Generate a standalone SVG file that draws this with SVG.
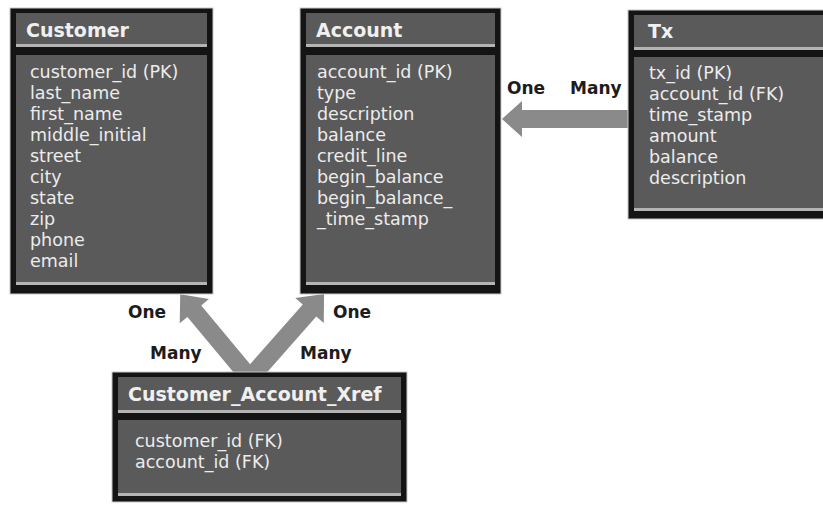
<svg xmlns="http://www.w3.org/2000/svg" width="823" height="505" viewBox="0 0 823 505">
<style>
.outer{fill:#141414;stroke:#c8c8c8;stroke-width:1}
.panel{fill:#5a5a5a}
.hl{fill:#b4b4b4}
.title{font-family:"DejaVu Sans",sans-serif;font-weight:bold;font-size:19px;fill:#f0f0f0}
.attr{font-family:"DejaVu Sans",sans-serif;font-size:17.5px;fill:#ececec}
.lbl{font-family:"DejaVu Sans",sans-serif;font-weight:bold;font-size:17px;fill:#1c1c1c}
.arrow{fill:#8a8a8a}
</style>
<g id="connectors">
<polygon class="arrow" points="628,110 522,110 522,101 502,119 522,137 522,128 628,128"/>
<g transform="translate(250,378) rotate(-129.8)"><polygon class="arrow" points="0,-9 87,-9 87,-19 109,0 87,19 87,9 0,9"/></g>
<g transform="translate(250,378) rotate(-48.6)"><polygon class="arrow" points="0,-9 90,-9 90,-19 112,0 90,19 90,9 0,9"/></g>
<text class="lbl" x="507" y="94">One</text>
<text class="lbl" x="570" y="94">Many</text>
<text class="lbl" x="128" y="318">One</text>
<text class="lbl" x="333" y="318">One</text>
<text class="lbl" x="150" y="359">Many</text>
<text class="lbl" x="300" y="359">Many</text>
</g>
<g id="customer">
<rect class="outer" x="10" y="8" width="203" height="286"/>
<rect class="panel" x="16" y="13" width="191" height="31"/>
<rect class="hl" x="16" y="44" width="191" height="3"/>
<rect class="panel" x="16" y="55" width="191" height="227"/>
<rect class="hl" x="16" y="282" width="191" height="3"/>
<text class="title" x="26" y="37">Customer</text>
<text class="attr" x="30" y="78">customer_id (PK)</text>
<text class="attr" x="30" y="99">last_name</text>
<text class="attr" x="30" y="120">first_name</text>
<text class="attr" x="30" y="141">middle_initial</text>
<text class="attr" x="30" y="162">street</text>
<text class="attr" x="30" y="183">city</text>
<text class="attr" x="30" y="204">state</text>
<text class="attr" x="30" y="225">zip</text>
<text class="attr" x="30" y="246">phone</text>
<text class="attr" x="30" y="267">email</text>
</g>
<g id="account">
<rect class="outer" x="300" y="8" width="201" height="286"/>
<rect class="panel" x="306" y="13" width="189" height="31"/>
<rect class="hl" x="306" y="44" width="189" height="3"/>
<rect class="panel" x="306" y="55" width="189" height="227"/>
<rect class="hl" x="306" y="282" width="189" height="3"/>
<text class="title" x="316" y="37">Account</text>
<text class="attr" x="317" y="78">account_id (PK)</text>
<text class="attr" x="317" y="99">type</text>
<text class="attr" x="317" y="120">description</text>
<text class="attr" x="317" y="141">balance</text>
<text class="attr" x="317" y="162">credit_line</text>
<text class="attr" x="317" y="183">begin_balance</text>
<text class="attr" x="317" y="204">begin_balance_</text>
<text class="attr" x="317" y="225">_time_stamp</text>
</g>
<g id="tx">
<rect class="outer" x="628" y="10" width="205" height="209"/>
<rect class="panel" x="634" y="15" width="195" height="32"/>
<rect class="hl" x="634" y="47" width="195" height="3"/>
<rect class="panel" x="634" y="57" width="195" height="151"/>
<rect class="hl" x="634" y="208" width="195" height="3"/>
<text class="title" x="648" y="38">Tx</text>
<text class="attr" x="649" y="79">tx_id (PK)</text>
<text class="attr" x="649" y="100">account_id (FK)</text>
<text class="attr" x="649" y="121">time_stamp</text>
<text class="attr" x="649" y="142">amount</text>
<text class="attr" x="649" y="163">balance</text>
<text class="attr" x="649" y="184">description</text>
</g>
<g id="customer_account_xref">
<rect class="outer" x="112" y="372" width="295" height="130"/>
<rect class="panel" x="118" y="377" width="283" height="33"/>
<rect class="hl" x="118" y="410" width="283" height="3"/>
<rect class="panel" x="118" y="420" width="283" height="73"/>
<rect class="hl" x="118" y="493" width="283" height="3"/>
<text class="title" x="128" y="401">Customer_Account_Xref</text>
<text class="attr" x="135" y="447">customer_id (FK)</text>
<text class="attr" x="135" y="468">account_id (FK)</text>
</g>
</svg>
